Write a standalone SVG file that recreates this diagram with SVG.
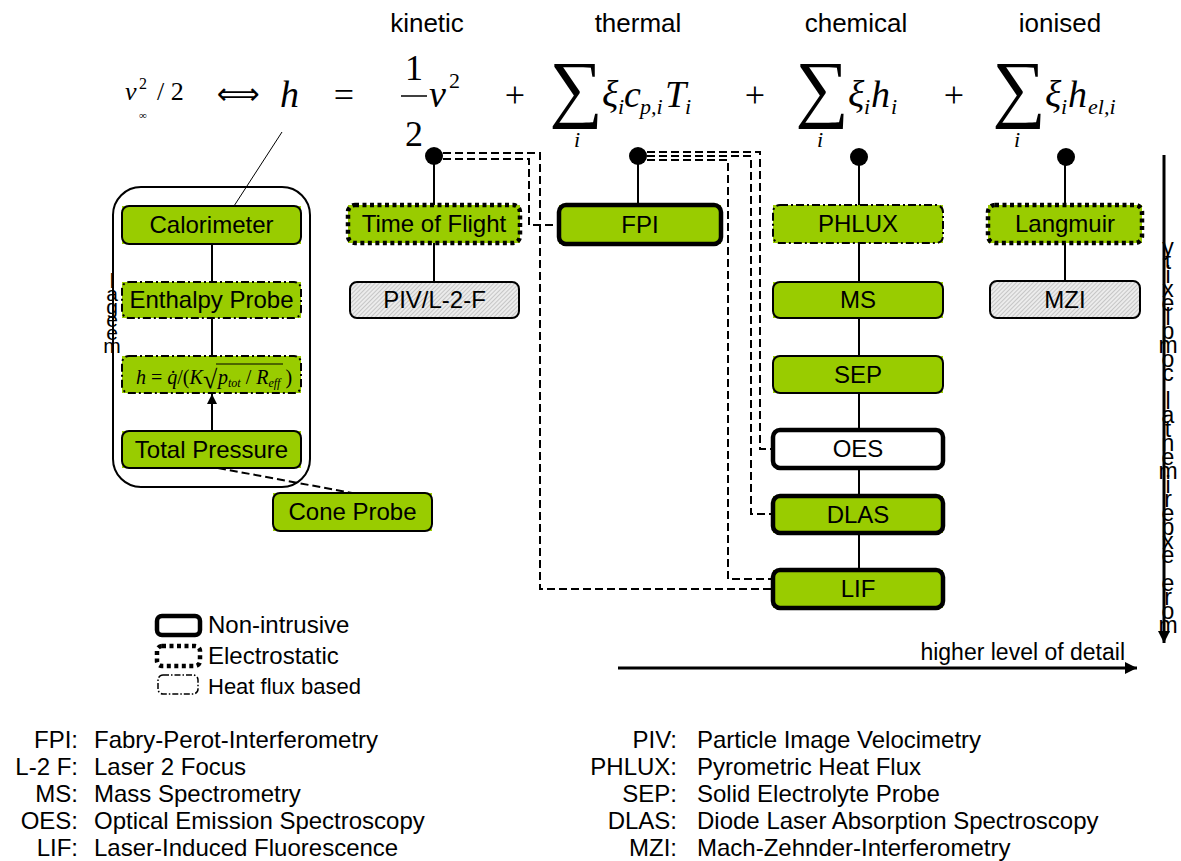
<svg xmlns="http://www.w3.org/2000/svg" width="1181" height="861" viewBox="0 0 1181 861">
<style>
.lbl{font-family:"Liberation Sans",Arial,sans-serif;font-size:24px;text-anchor:middle;fill:#000}
.txt{font-family:"Liberation Sans",Arial,sans-serif;font-size:24px;fill:#000}
.m{font-family:"Liberation Serif","Times New Roman",serif;font-style:italic;fill:#000}
.r{font-family:"Liberation Serif","Times New Roman",serif;fill:#000}
.gf{fill:#99cc00}
.solid{fill:none;stroke:#000;stroke-width:2}
.thick{fill:none;stroke:#000;stroke-width:4.5}
.dotted{fill:none;stroke:#000;stroke-width:4.5;stroke-dasharray:4 3.5}
.heat{fill:none;stroke:#000;stroke-width:2;stroke-dasharray:8 3 2 3}
.hatch{fill:url(#hatch);stroke:#000;stroke-width:2}
.conn{fill:none;stroke:#000;stroke-width:2}
.dash{fill:none;stroke:#000;stroke-width:2;stroke-dasharray:8 4}
</style>
<defs>
<pattern id="hatch" patternUnits="userSpaceOnUse" width="3" height="3" patternTransform="rotate(45)">
<rect width="3" height="3" fill="#ececec"/>
<line x1="0" y1="0" x2="0" y2="3" stroke="#a0a0a0" stroke-width="1"/>
</pattern>
<marker id="ah" viewBox="0 0 10 10" refX="10" refY="5" markerWidth="5" markerHeight="5" orient="auto" markerUnits="strokeWidth">
<path d="M0,0 L10,5 L0,10 z" fill="#000"/>
</marker>
<marker id="ah2" viewBox="0 0 10 10" refX="10" refY="5" markerWidth="4" markerHeight="4" orient="auto" markerUnits="strokeWidth">
<path d="M0,0 L10,5 L0,10 z" fill="#000"/>
</marker>
</defs>
<rect width="1181" height="861" fill="#fff"/>

<g id="labels">
<text class="lbl" x="427" y="32" style="font-size:26px">kinetic</text>
<text class="lbl" x="638" y="32" style="font-size:26px">thermal</text>
<text class="lbl" x="856" y="32" style="font-size:26px">chemical</text>
<text class="lbl" x="1060" y="32" style="font-size:26px">ionised</text>
</g>

<g id="equation">
<text class="m" x="125" y="100" font-size="26">v</text>
<text class="r" x="139" y="89" font-size="16">2</text>
<text class="r" x="139" y="119" font-size="11">∞</text>
<text class="r" x="157" y="100" font-size="26">/ 2</text>
<text x="238" y="104" font-size="30" text-anchor="middle" font-family="DejaVu Sans,sans-serif">⟺</text>
<text class="m" x="280" y="107" font-size="38">h</text>
<text class="r" x="344" y="107" font-size="36" text-anchor="middle">=</text>
<text class="r" x="414" y="80" font-size="36" text-anchor="middle">1</text>
<line x1="401" y1="96" x2="427" y2="96" stroke="#000" stroke-width="1.5"/>
<text class="r" x="414" y="146" font-size="36" text-anchor="middle">2</text>
<text class="m" x="429" y="107" font-size="38">v</text>
<text class="r" x="449" y="88" font-size="22">2</text>
<text class="r" x="515" y="107" font-size="36" text-anchor="middle">+</text>
<text class="r" x="576" y="113" font-size="75" text-anchor="middle">∑</text>
<text class="m" x="577" y="147" font-size="22" text-anchor="middle">i</text>
<text class="m" x="602" y="107" font-size="38">ξ</text>
<text class="m" x="618" y="114" font-size="22">i</text>
<text class="m" x="624" y="107" font-size="38">c</text>
<text class="m" x="640" y="114" font-size="22">p,i</text>
<text class="m" x="665" y="107" font-size="38">T</text>
<text class="m" x="685" y="114" font-size="22">i</text>
<text class="r" x="755" y="107" font-size="36" text-anchor="middle">+</text>
<text class="r" x="822" y="113" font-size="75" text-anchor="middle">∑</text>
<text class="m" x="820" y="147" font-size="22" text-anchor="middle">i</text>
<text class="m" x="848" y="107" font-size="38">ξ</text>
<text class="m" x="864" y="114" font-size="22">i</text>
<text class="m" x="871" y="107" font-size="38">h</text>
<text class="m" x="891" y="114" font-size="22">i</text>
<text class="r" x="954" y="107" font-size="36" text-anchor="middle">+</text>
<text class="r" x="1019" y="113" font-size="75" text-anchor="middle">∑</text>
<text class="m" x="1017" y="147" font-size="22" text-anchor="middle">i</text>
<text class="m" x="1045" y="107" font-size="38">ξ</text>
<text class="m" x="1061" y="114" font-size="22">i</text>
<text class="m" x="1068" y="107" font-size="38">h</text>
<text class="m" x="1088" y="114" font-size="22">el,i</text>
</g>

<g id="connectors">
<circle cx="434" cy="156" r="9" fill="#000"/>
<circle cx="638" cy="156" r="9" fill="#000"/>
<circle cx="859" cy="157" r="9" fill="#000"/>
<circle cx="1066" cy="157" r="9" fill="#000"/>
<line class="conn" x1="434" y1="156" x2="434" y2="205"/>
<line class="conn" x1="638" y1="156" x2="638" y2="205"/>
<line class="conn" x1="859" y1="157" x2="859" y2="205"/>
<line class="conn" x1="1065" y1="157" x2="1065" y2="205"/>
<line class="conn" x1="434" y1="243" x2="434" y2="282"/>
<line class="conn" x1="1065" y1="243" x2="1065" y2="281"/>
<line class="conn" x1="859" y1="243" x2="859" y2="282"/>
<line class="conn" x1="859" y1="318" x2="859" y2="356"/>
<line class="conn" x1="859" y1="393" x2="859" y2="430"/>
<line class="conn" x1="859" y1="468" x2="859" y2="496"/>
<line class="conn" x1="859" y1="533" x2="859" y2="570"/>
<line class="conn" x1="212" y1="244" x2="212" y2="282"/>
<line class="conn" x1="212" y1="318" x2="212" y2="356"/>
<line class="conn" x1="212" y1="431" x2="212" y2="394" marker-end="url(#ah)"/>
<line x1="282" y1="132" x2="234" y2="206" stroke="#000" stroke-width="1"/>
<line class="dash" x1="218" y1="468" x2="352" y2="493"/>
<path class="dash" d="M443,159 H529 V225 H559"/>
<path class="dash" d="M443,153 H540 V589 H773"/>
<path class="dash" d="M647,152 H760 V449 H773"/>
<path class="dash" d="M647,156 H751 V514 H773"/>
<path class="dash" d="M647,160 H728 V579 H773"/>
<line x1="618" y1="668" x2="1137" y2="668" stroke="#000" stroke-width="3" marker-end="url(#ah2)"/>
<line x1="1164" y1="155" x2="1164" y2="643" stroke="#000" stroke-width="3" marker-end="url(#ah2)"/>
</g>

<g id="enthalpy-group">
<rect x="113" y="187" width="197" height="300" rx="28" class="solid"/>
</g>
<g id="calorimeter">
<rect x="122" y="206" width="179" height="38" class="gf"/>
<rect x="122" y="206" width="179" height="38" rx="7" class="solid"/>
<text class="lbl" x="211.5" y="233">Calorimeter</text>
</g>
<g id="enthalpy-probe">
<rect x="122" y="282" width="179" height="36" class="gf"/>
<rect x="122" y="282" width="179" height="36" rx="7" class="heat"/>
<text class="lbl" x="211.5" y="308">Enthalpy Probe</text>
</g>
<g id="formula">
<rect x="122" y="356" width="179" height="37" class="gf"/>
<rect x="122" y="356" width="179" height="37" rx="7" class="heat"/>
<text class="m" x="136" y="384" font-size="20">h<tspan font-style="normal"> = </tspan>q̇<tspan font-style="normal">/(</tspan>K</text>
<text class="r" x="203" y="388" font-size="26">√</text>
<line x1="216" y1="364" x2="283" y2="364" stroke="#000" stroke-width="1"/>
<text class="m" x="218" y="384" font-size="20">p<tspan font-size="12" dy="3">tot</tspan><tspan font-style="normal" dy="-3"> / </tspan>R<tspan font-size="12" dy="3">eff</tspan><tspan font-style="normal" dy="-3"> )</tspan></text>
</g>
<g id="total-pressure">
<rect x="122" y="431" width="179" height="37" class="gf"/>
<rect x="122" y="431" width="179" height="37" rx="7" class="solid"/>
<text class="lbl" x="211.5" y="458">Total Pressure</text>
</g>
<g id="cone-probe">
<rect x="273" y="493" width="159" height="38" class="gf"/>
<rect x="273" y="493" width="159" height="38" rx="7" class="solid"/>
<text class="lbl" x="352.5" y="520">Cone Probe</text>
</g>

<g id="time-of-flight">
<rect x="348" y="205" width="172" height="38" class="gf"/>
<rect x="348" y="205" width="172" height="38" rx="7" class="dotted"/>
<text class="lbl" x="434" y="232">Time of Flight</text>
</g>
<g id="piv">
<rect x="350" y="282" width="169" height="36" rx="7" class="hatch"/>
<text class="lbl" x="434.5" y="308">PIV/L-2-F</text>
</g>

<g id="fpi">
<rect x="559" y="205" width="162" height="39" class="gf"/>
<rect x="559" y="205" width="162" height="39" rx="7" class="thick"/>
<text class="lbl" x="640" y="233">FPI</text>
</g>

<g id="phlux">
<rect x="773" y="205" width="170" height="38" class="gf"/>
<rect x="773" y="205" width="170" height="38" rx="7" class="heat"/>
<text class="lbl" x="858" y="232">PHLUX</text>
</g>
<g id="ms">
<rect x="773" y="282" width="170" height="36" class="gf"/>
<rect x="773" y="282" width="170" height="36" rx="7" class="solid"/>
<text class="lbl" x="858" y="308">MS</text>
</g>
<g id="sep">
<rect x="773" y="356" width="170" height="37" class="gf"/>
<rect x="773" y="356" width="170" height="37" rx="7" class="solid"/>
<text class="lbl" x="858" y="383">SEP</text>
</g>
<g id="oes">
<rect x="773" y="430" width="170" height="38" rx="7" fill="#fff" class="thick"/>
<text class="lbl" x="858" y="457">OES</text>
</g>
<g id="dlas">
<rect x="773" y="496" width="170" height="37" class="gf"/>
<rect x="773" y="496" width="170" height="37" rx="7" class="thick"/>
<text class="lbl" x="858" y="523">DLAS</text>
</g>
<g id="lif">
<rect x="773" y="570" width="170" height="38" class="gf"/>
<rect x="773" y="570" width="170" height="38" rx="7" class="thick"/>
<text class="lbl" x="858" y="597">LIF</text>
</g>

<g id="langmuir">
<rect x="988" y="205" width="154" height="38" class="gf"/>
<rect x="988" y="205" width="154" height="38" rx="7" class="dotted"/>
<text class="lbl" x="1065" y="232">Langmuir</text>
</g>
<g id="mzi">
<rect x="990" y="281" width="150" height="37" rx="7" class="hatch"/>
<text class="lbl" x="1065" y="308">MZI</text>
</g>

<g id="vertical-right">
<text class="lbl" style="font-size:23px" x="1168 1168 1168 1168 1168 1168 1168 1168 1168 1168 1168 1168 1168 1168 1168 1168 1168 1168 1168 1168 1168 1168 1168 1168 1168 1168 1168 1168" y="255 269 283 297 311 325 339 353 367 381 395 409 423 437 451 465 479 493 507 521 535 549 563 577 591 605 619 633">ytixelpmoc latnemirepxe erom</text>
</g>
<g id="vertical-left">
<text class="lbl" style="font-size:21px" x="112 112 112 112 112 112" y="288 301 314 327 340 353">lageem</text>
</g>

<g id="legend">
<rect x="157" y="616" width="43" height="19" rx="5" class="thick"/>
<text class="txt" x="208" y="633">Non-intrusive</text>
<rect x="157" y="646" width="43" height="20" rx="5" class="dotted"/>
<text class="txt" x="208" y="664">Electrostatic</text>
<rect x="158" y="675" width="40" height="19" rx="5" fill="none" stroke="#000" stroke-width="1.5" stroke-dasharray="6 2 1.5 2"/>
<text class="txt" x="208" y="694" style="font-size:22px">Heat flux based</text>
<text class="txt" x="1125" y="660" style="font-size:23px;text-anchor:end">higher level of detail</text>
</g>

<g id="abbreviations">
<g class="txt" style="text-anchor:end">
<text x="78" y="748">FPI:</text>
<text x="78" y="775">L-2 F:</text>
<text x="78" y="802">MS:</text>
<text x="78" y="829">OES:</text>
<text x="78" y="856">LIF:</text>
<text x="677" y="748">PIV:</text>
<text x="677" y="775">PHLUX:</text>
<text x="677" y="802">SEP:</text>
<text x="677" y="829">DLAS:</text>
<text x="677" y="856">MZI:</text>
</g>
<g class="txt">
<text x="94" y="748">Fabry-Perot-Interferometry</text>
<text x="94" y="775">Laser 2 Focus</text>
<text x="94" y="802">Mass Spectrometry</text>
<text x="94" y="829">Optical Emission Spectroscopy</text>
<text x="94" y="856">Laser-Induced Fluorescence</text>
<text x="697" y="748">Particle Image Velocimetry</text>
<text x="697" y="775">Pyrometric Heat Flux</text>
<text x="697" y="802">Solid Electrolyte Probe</text>
<text x="697" y="829">Diode Laser Absorption Spectroscopy</text>
<text x="697" y="856">Mach-Zehnder-Interferometry</text>
</g>
</g>
</svg>
